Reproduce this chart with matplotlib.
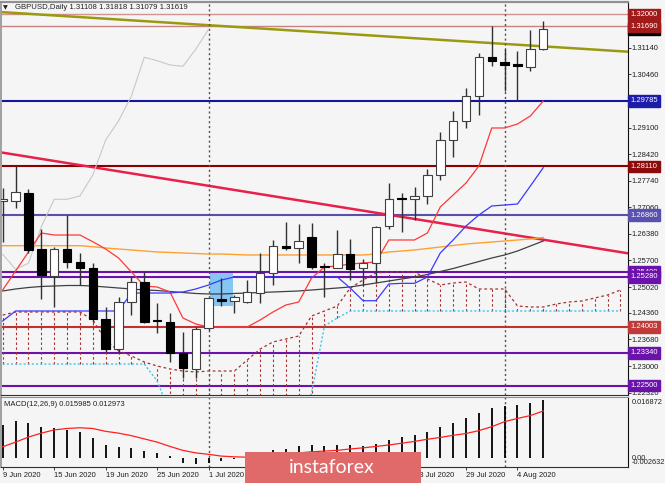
import matplotlib
matplotlib.use("Agg")
import matplotlib.pyplot as plt
import matplotlib.transforms as mtransforms
from matplotlib.patches import Rectangle
import numpy as np

plt.rcParams['font.family'] = ['Liberation Sans', 'DejaVu Sans']

# ---------------- data ----------------
date_labels = ["9 Jun 2020", "15 Jun 2020", "19 Jun 2020", "25 Jun 2020", "1 Jul 2020",
               "7 Jul 2020", "13 Jul 2020", "17 Jul 2020", "23 Jul 2020", "29 Jul 2020", "4 Aug 2020"]
date_label_idx = [0, 4, 8, 12, 16, 20, 24, 28, 32, 36, 40]

opens = [1.27235, 1.27230, 1.27420, 1.25987, 1.25303, 1.25994, 1.25669, 1.25500, 1.24203, 1.23428,
         1.24630, 1.25142, 1.24165, 1.24134, 1.23341, 1.22916, 1.23965, 1.24715, 1.24664, 1.24630,
         1.24861, 1.25372, 1.26071, 1.26012, 1.26309, 1.25559, 1.25516, 1.25859, 1.25500, 1.25628,
         1.26583, 1.27292, 1.27266, 1.27351, 1.27888, 1.28783, 1.29270, 1.29909, 1.30900, 1.30772,
         1.30721, 1.30659, 1.31108]
highs = [1.27555, 1.28126, 1.27522, 1.26506, 1.26053, 1.26864, 1.25884, 1.25628, 1.24518, 1.24774,
         1.25285, 1.25398, 1.24620, 1.24364, 1.23878, 1.24006, 1.24740, 1.25245, 1.24817, 1.25201,
         1.25900, 1.26225, 1.26693, 1.26626, 1.26667, 1.25644, 1.26480, 1.26242, 1.25731, 1.26591,
         1.27691, 1.27420, 1.27573, 1.28034, 1.28996, 1.29526, 1.30122, 1.31017, 1.31690, 1.31104,
         1.31069, 1.31598, 1.31818]
lows = [1.26181, 1.27043, 1.25892, 1.24715, 1.24518, 1.25516, 1.25073, 1.24134, 1.23366, 1.23325,
        1.24305, 1.24113, 1.23852, 1.23110, 1.22693, 1.22693, 1.23922, 1.24543, 1.24364, 1.24605,
        1.24605, 1.25073, 1.25969, 1.25644, 1.25483, 1.24774, 1.25500, 1.25201, 1.25073, 1.25116,
        1.26498, 1.26437, 1.26736, 1.27146, 1.27760, 1.28356, 1.29098, 1.29423, 1.30685, 1.30045,
        1.29790, 1.30549, 1.31079]
closes = [1.27261, 1.27445, 1.25969, 1.25329, 1.25994, 1.25654, 1.25500, 1.24195, 1.23435, 1.24630,
          1.25142, 1.24134, 1.24139, 1.23325, 1.22942, 1.23947, 1.24733, 1.24651, 1.24774, 1.24886,
          1.25388, 1.26071, 1.26012, 1.26207, 1.25526, 1.25539, 1.25859, 1.25475, 1.25628, 1.26565,
          1.27266, 1.27266, 1.27351, 1.27888, 1.28783, 1.29270, 1.29909, 1.30900, 1.30813, 1.30703,
          1.30669, 1.31104, 1.31619]

tenkan = [1.24945, 1.25431, 1.25918, 1.26404, 1.26352, 1.26352, 1.26352, 1.26181, 1.25994, 1.25764,
          1.25406, 1.25047, 1.25022, 1.24894, 1.24229, 1.24075, 1.23998, 1.23998, 1.23998, 1.23998,
          1.24177, 1.24382, 1.24561, 1.24638, 1.25252, 1.25534, 1.25559, 1.25610, 1.25636, 1.25662,
          1.26225, 1.26225, 1.26225, 1.26404, 1.27069, 1.27376, 1.27683, 1.28118, 1.29091, 1.29091,
          1.29193, 1.29398, 1.29781]
kijun = [1.24152, 1.24408, 1.24408, 1.24408, 1.24408, 1.24408, 1.24408, 1.24408, 1.24408, 1.24408,
         1.24868, 1.24868, 1.24868, 1.24868, 1.24894, 1.24971, 1.25073, 1.25201, 1.25278, 1.25278,
         1.25278, 1.25278, 1.25278, 1.25278, 1.25278, 1.25278, 1.25278, 1.24996, 1.24671, 1.24671,
         1.25099, 1.25116, 1.25116, 1.25278, 1.25892, 1.26225, 1.26583, 1.26864, 1.27095, 1.27120,
         1.27146, 1.27606, 1.28075]
senkou_a = [1.24305, 1.24382, 1.24382, 1.24382, 1.24382, 1.24382, 1.24382, 1.24177, 1.23666, 1.23384,
            1.23256, 1.23103, 1.23000, 1.22924, 1.22872, 1.22847, 1.22872, 1.22872, 1.22872, 1.23154,
            1.23435, 1.23615, 1.23691, 1.23768, 1.24280, 1.24408, 1.24536, 1.24996, 1.25201, 1.25380,
            1.25406, 1.25406, 1.25406, 1.25227, 1.25073, 1.25124, 1.25150, 1.24971, 1.24971, 1.24971,
            1.24536, 1.24510, 1.24510, 1.24587, 1.24638, 1.24664, 1.24740, 1.24817, 1.24945]
senkou_b = [1.23051, 1.23051, 1.23051, 1.23051, 1.23051, 1.23051, 1.23051, 1.23051, 1.23051, 1.23051,
            1.23051, 1.23051, 1.22617, 1.21800, 1.21363, 1.21363, 1.21363, 1.21363, 1.21363, 1.21363,
            1.21363, 1.21363, 1.21363, 1.21363, 1.22309, 1.24024, 1.24229, 1.24408, 1.24408, 1.24408,
            1.24408, 1.24408, 1.24408, 1.24408, 1.24408, 1.24408, 1.24408, 1.24408, 1.24408, 1.24408,
            1.24408, 1.24408, 1.24408, 1.24408, 1.24408, 1.24408, 1.24408, 1.24408, 1.24408]
ma_orange = [1.26079, 1.26079, 1.26079, 1.26079, 1.26079, 1.26079, 1.26079, 1.26053, 1.26020, 1.25994,
             1.25969, 1.25943, 1.25918, 1.25905, 1.25892, 1.25879, 1.25866, 1.25866, 1.25854, 1.25841,
             1.25841, 1.25841, 1.25841, 1.25841, 1.25841, 1.25841, 1.25841, 1.25841, 1.25841, 1.25866,
             1.25918, 1.25943, 1.25969, 1.26007, 1.26045, 1.26084, 1.26122, 1.26148, 1.26173, 1.26199,
             1.26225, 1.26250, 1.26289]
ma_dark = [1.24920, 1.24971, 1.25009, 1.25035, 1.25047, 1.25060, 1.25060, 1.25047, 1.25022, 1.24996,
           1.24971, 1.24945, 1.24932, 1.24907, 1.24881, 1.24856, 1.24843, 1.24843, 1.24856, 1.24868,
           1.24881, 1.24894, 1.24907, 1.24920, 1.24945, 1.24971, 1.24996, 1.25022, 1.25073, 1.25124,
           1.25175, 1.25227, 1.25278, 1.25342, 1.25418, 1.25495, 1.25585, 1.25674, 1.25764, 1.25841,
           1.25943, 1.26071, 1.26199]

macd_main = [0.0090, 0.0101, 0.0096, 0.0085, 0.0081, 0.0078, 0.0070, 0.0054, 0.0034, 0.0030,
             0.0028, 0.0018, 0.0012, 0.0004, -0.0016, -0.0017, -0.0014, -0.0009, -0.0005, 0.0002,
             0.0008, 0.0020, 0.0025, 0.0031, 0.0034, 0.0031, 0.0034, 0.0034, 0.0031, 0.0039,
             0.0050, 0.0057, 0.0064, 0.0070, 0.0084, 0.0095, 0.0109, 0.0125, 0.0137, 0.0144,
             0.0147, 0.0151, 0.015985]
macd_signal = [0.0030, 0.0043, 0.0057, 0.0068, 0.0077, 0.0081, 0.0083, 0.0081, 0.0073, 0.0068,
               0.0061, 0.0052, 0.0043, 0.0031, 0.0020, 0.0013, 0.0009, 0.0004, 0.0002, 0.0001,
               0.00025, 0.0006, 0.0009, 0.0013, 0.0016, 0.0018, 0.0020, 0.0024, 0.0027, 0.0031,
               0.0035, 0.0040, 0.0045, 0.0051, 0.0056, 0.0062, 0.0067, 0.0075, 0.0086, 0.0100,
               0.0109, 0.0117, 0.012973]

level_prices = [1.32000, 1.31690, 1.29785, 1.28110, 1.26860, 1.25400, 1.25280, 1.24003, 1.23340, 1.22500]
level_colors = ["#d49494", "#c88282", "#14149c", "#8b0000", "#5a50a8", "#6a12aa", "#6a12aa", "#c03232", "#6a12aa", "#6a12aa"]
level_widths = [1.0, 1.0, 1.5, 1.5, 1.5, 1.5, 1.5, 1.5, 1.5, 1.5]
box_colors = ["#a01a1a", "#a01a1a", "#1c1ca8", "#8b0a0a", "#5a50b0", "#6a12aa", "#6a12aa", "#c03a3a", "#6a12aa", "#6a12aa"]

tick_prices = [1.31820, 1.31140, 1.30460, 1.29780, 1.29100, 1.28420, 1.27740, 1.27060, 1.26380,
               1.25700, 1.25020, 1.24360, 1.23680, 1.23000, 1.22320]

macd_axis_labels = ["0.016872", "0.00", "-0.002632"]

olive_pts_x = [0, 48]
olive_pts_y = [1.32054, 1.31055]
crimson_pts_x = [0, 48]
crimson_pts_y = [1.28459, 1.25915]
rect_x = [16.1, 17.9]
rect_y = [1.24536, 1.25372]
vline_idx = [16, 39]
current_price = 1.31619

# ---------------- layout ----------------
W, H = 665, 483
BG = "#f5f5f5"
fig = plt.figure(figsize=(W / 100, H / 100), dpi=100)
fig.patch.set_facecolor(BG)

def fx(px):
    return px / W

def fy(py):
    return 1 - py / H

ax = fig.add_axes([fx(1), fy(395), fx(628) - fx(1), fy(2) - fy(395)])
mx = fig.add_axes([fx(1), fy(467), fx(628) - fx(1), fy(397) - fy(467)], sharex=ax)
for a in (ax, mx):
    a.set_facecolor(BG)
    a.spines['left'].set_color('#a0a0a0')
    a.spines['left'].set_linewidth(1.4)
    a.spines['top'].set_color('#909090')
    a.spines['right'].set_color('#101010')
    a.spines['bottom'].set_color('#303030')
    for s in ('right', 'bottom'):
        a.spines[s].set_linewidth(0.8)
ax.spines['top'].set_linewidth(1.6)
mx.spines['top'].set_linewidth(0.8)

n = len(closes)
x = np.arange(n)
xc = np.arange(len(senkou_a))

ax.set_xlim(-0.132, 48.586)
ax.set_ylim(1.222582, 1.323147)

# level lines
for p, c, lw in zip(level_prices, level_colors, level_widths):
    ax.axhline(p, color=c, lw=lw, zorder=1.5)

# trend lines
ax.axline((olive_pts_x[0], olive_pts_y[0]), (olive_pts_x[1], olive_pts_y[1]), color="#9a9a12", lw=1.8, zorder=2)
ax.axline((crimson_pts_x[0], crimson_pts_y[0]), (crimson_pts_x[1], crimson_pts_y[1]), color="#e8204c", lw=1.8, zorder=2)

# blue rectangle
ax.add_patch(Rectangle((rect_x[0], rect_y[0]), rect_x[1] - rect_x[0], rect_y[1] - rect_y[0],
                       facecolor="#86c6f4", edgecolor="none", zorder=1.8))

# cloud hatch
sa = np.array(senkou_a)
sb = np.array(senkou_b)
ax.vlines(xc, np.minimum(sa, sb), np.maximum(sa, sb), colors="#a83030", linestyles=(0, (2.2, 2.2)), lw=0.8, zorder=2)
ax.plot(xc, sa, color="#a83030", ls=(0, (2.2, 2.2)), lw=0.9, zorder=2)
ax.plot(xc, sb, color="#3cc4f0", ls=(0, (1.5, 1.5)), lw=1.0, zorder=2)

# moving averages and ichimoku lines
ax.plot(x, ma_orange, color="#ffa030", lw=1.0, zorder=2.5)
ax.plot(x, ma_dark, color="#404040", lw=0.9, zorder=2.5)
ax.plot(x, tenkan, color="#ff3838", lw=0.9, zorder=2.6)
ax.plot(x, kijun, color="#3a3aff", lw=0.9, zorder=2.6)
chikou = closes[26:]
ax.plot(np.arange(len(chikou)), chikou, color="#c8c8c8", lw=0.8, zorder=2.4)

# vertical dotted lines
for v in vline_idx:
    ax.axvline(v, color="#505050", ls=(0, (1.5, 2)), lw=1.0, zorder=2.2)
    mx.axvline(v, color="#505050", ls=(0, (1.5, 2)), lw=1.0, zorder=2.2)

# candles
o = np.array(opens); c = np.array(closes); h = np.array(highs); l = np.array(lows)
bull = c >= o
ax.vlines(x, l, h, colors="#303030", lw=1.0, zorder=4)
body_lo = np.minimum(o, c)
body_h = np.maximum(np.abs(c - o), 0.00010)
ax.bar(x[bull], body_h[bull], bottom=body_lo[bull], width=0.66, color="white",
       edgecolor="#404040", lw=0.8, zorder=5)
ax.bar(x[~bull], body_h[~bull], bottom=body_lo[~bull], width=0.66, color="black",
       edgecolor="black", lw=0.8, zorder=5)

# price axis
ax.yaxis.tick_right()
ax.set_yticks(tick_prices)
ax.set_yticklabels([f"{v:.5f}" for v in tick_prices])
ax.tick_params(axis='y', labelsize=5.5, length=2.0, width=0.6, pad=0.6, colors="#202020")
ax.tick_params(axis='x', bottom=False, labelbottom=False)

trans = mtransforms.blended_transform_factory(ax.transAxes, ax.transData)
ax.text(1.004, current_price, f"{current_price:.5f}", transform=trans, fontsize=5.5, color="white",
        va="center", ha="left", clip_on=False, zorder=9,
        bbox=dict(boxstyle="square,pad=0.3", fc="black", ec="black"))
order = [0, 2, 3, 4, 5, 6, 7, 8, 9, 1]
for k in order:
    p = level_prices[k]
    ax.text(1.004, p, f"{p:.5f}", transform=trans, fontsize=5.5, color="white",
            va="center", ha="left", clip_on=False, zorder=10,
            bbox=dict(boxstyle="square,pad=0.3", fc=box_colors[k], ec=box_colors[k]))

# MACD panel
mx.set_ylim(-0.002632, 0.016872)
mx.vlines(x, 0, macd_main, colors="black", lw=1.3, zorder=3)
mx.plot(x, macd_signal, color="#ff2020", lw=0.9, zorder=4)
mx.set_yticks([])
mx.set_xticks(date_label_idx)
mx.set_xticklabels(date_labels)
mx.tick_params(axis='x', labelsize=5.5, length=2.2, width=0.6, pad=1.5, colors="#202020")
for lbl in mx.get_xticklabels():
    lbl.set_ha("left")
for lab, ypx in zip(macd_axis_labels, [402.7, 458.5, 462.0]):
    mx.text(1.006, (467 - ypx) / 70, lab, transform=mx.transAxes, fontsize=5.3, va="center",
            ha="left", color="#202020")

fig.text(fx(4), fy(405), f"MACD(12,26,9) {macd_main[-1]:.6f} {macd_signal[-1]:.6f}", fontsize=5.5,
         va="center", ha="left", color="#202020")

# title
fig.text(fx(3), fy(7.5), "▼", fontsize=4.5, family="DejaVu Sans", va="center", ha="left", color="#202020")
fig.text(fx(15), fy(7.5), f"GBPUSD,Daily {opens[-1]:.5f} {highs[-1]:.5f} {lows[-1]:.5f} {closes[-1]:.5f}",
         fontsize=5.6, va="center", ha="left", color="#202020")

# watermark
fig.patches.append(Rectangle((fx(245), 0), fx(421) - fx(245), (483 - 452) / H,
                             transform=fig.transFigure, facecolor="#e06a6a", edgecolor="none", zorder=20))
fig.text(fx(332), fy(472.7), "instaforex", color="white", fontsize=14, family=["Lato", "DejaVu Sans"],
         ha="center", va="baseline", zorder=21)

fig.savefig("out.png", dpi=100, facecolor=BG)
